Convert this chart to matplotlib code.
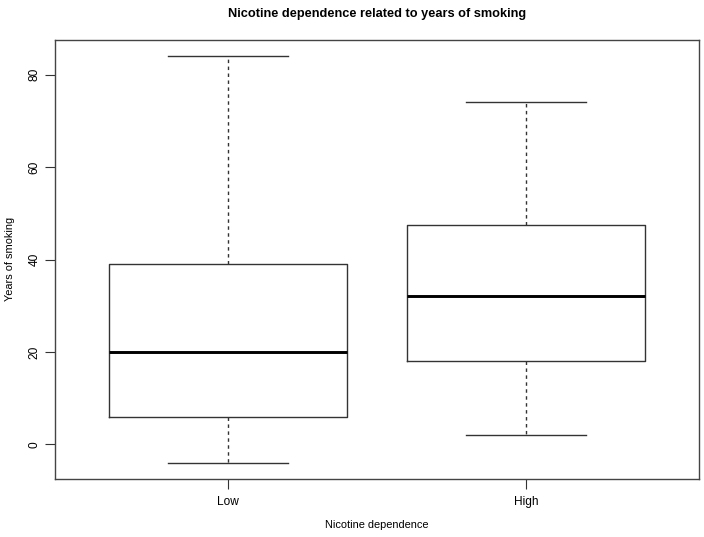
import matplotlib

matplotlib.use("Agg")
import matplotlib.pyplot as plt

plt.rcParams["font.family"] = ["Liberation Sans", "DejaVu Sans"]

# five-number summaries
groups = ["Low", "High"]
whisker_low = [-4, 2]
q1 = [6, 18]
median = [20, 32]
q3 = [39, 47.5]
whisker_high = [84, 74]
yticks = [0, 20, 40, 60, 80]

stats = [
    {"label": g, "whislo": lo, "q1": a, "med": m, "q3": b, "whishi": hi}
    for g, lo, a, m, b, hi in zip(groups, whisker_low, q1, median, q3, whisker_high)
]

fig = plt.figure(figsize=(7.04, 5.37), dpi=100)
ax = fig.add_axes([55 / 704, 1 - 479 / 537, 644 / 704, 439 / 537])

line = dict(color="#333333", lw=1.0)
ax.bxp(stats, positions=[1, 2], widths=0.8, showfliers=False,
       boxprops=line,
       medianprops=dict(color="black", lw=2.1),
       whiskerprops=dict(color="#333333", lw=1.0, ls=(0, (2.5, 2.5))),
       capprops=dict(color="#333333", lw=1.0),
       capwidths=0.4)

lo, hi = min(whisker_low), max(whisker_high)
pad = 0.04 * (hi - lo)
ax.set_ylim(lo - pad, hi + pad)
ax.set_xlim(0.5 - 0.08, 2.5 + 0.08)
ax.set_yticks(yticks)
ax.set_yticklabels([str(t) for t in yticks], rotation=90, va="center")
ax.set_xticks([1, 2])
ax.set_xticklabels(groups)
ax.tick_params(length=7, width=0.8, color="#333333", labelsize=8.6, pad=3.5)
ax.tick_params(axis="x", pad=5.5)
for s in ax.spines.values():
    s.set_color("#444444")
    s.set_linewidth(1.0)

# axis titles placed where the reference has them
fig.text(377 / 704, 1 - 525 / 537, "Nicotine dependence",
         ha="center", va="center", fontsize=7.9)
fig.text(10 / 704, 1 - 259 / 537, "Years of smoking", rotation=90,
         ha="center", va="center", fontsize=7.9)
fig.text(377 / 704, 1 - 14 / 537, "Nicotine dependence related to years of smoking",
         ha="center", va="center", fontsize=9.2, fontweight="bold")

fig.savefig("out.png", dpi=100)
